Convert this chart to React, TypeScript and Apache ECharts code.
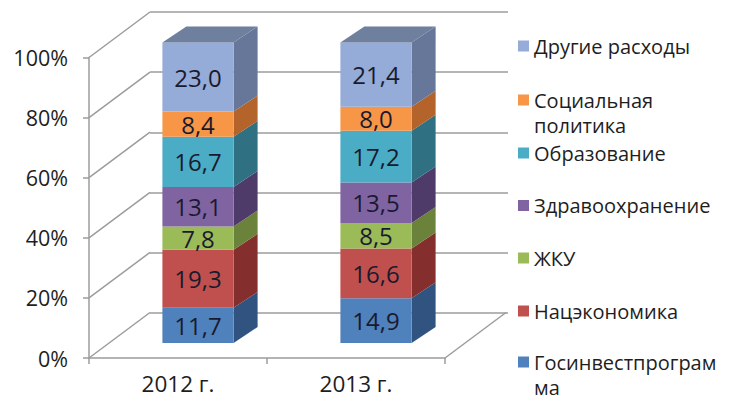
import React, { useEffect, useRef } from 'react';
import * as echarts from 'echarts';

const categories = ['2012 г.', '2013 г.'];
const yTicks = [0, 20, 40, 60, 80, 100];
const seriesNames = [
  'Госинвестпрограмма',
  'Нацэкономика',
  'ЖКУ',
  'Здравоохранение',
  'Образование',
  'Социальная политика',
  'Другие расходы',
];
const gosinvest = [11.7, 14.9];
const natsekonomika = [19.3, 16.6];
const zhku = [7.8, 8.5];
const zdrav = [13.1, 13.5];
const obraz = [16.7, 17.2];
const social = [8.4, 8.0];
const other = [23.0, 21.4];
const seriesValues = [gosinvest, natsekonomika, zhku, zdrav, obraz, social, other];
const legendLines: Record<string, string[]> = {
  'Социальная политика': ['Социальная', 'политика'],
  'Госинвестпрограмма': ['Госинвестпрограм', 'ма'],
};

const frontColors = ['#4F81BD', '#C0504D', '#9BBB59', '#8064A2', '#4BACC6', '#F79646', '#95ABD8'];
const sideColors = ['#31537F', '#842F2D', '#6A8239', '#4F3B69', '#2F7083', '#B4642A', '#66779A'];
const topColors = ['#3B6296', '#9A3A37', '#7C9645', '#5E4A7C', '#3888A0', '#C97530', '#6F7F9E'];

const FONT = '"Open Sans", sans-serif';
const TEXT = '#1E1E1E';
const GRID = '#9C9C9C';
const DEPTH_DX = 61;
const DEPTH_DY = -45.5;
const BAR_DX = 20;
const BAR_DY = -15;
const SIDE_DX = 24;
const SIDE_DY = -16;

export default function App() {
  const ref = useRef<HTMLDivElement>(null);
  useEffect(() => {
    if (!ref.current) return;
    const chart = echarts.init(ref.current, null, { renderer: 'svg' });

    const totals = categories.map((_, ci) => seriesValues.reduce((s, arr) => s + arr[ci], 0));
    const cum = categories.map(() => 0);

    const barSeries = seriesNames.map((name, si) => {
      const data = categories.map((_, ci) => {
        const v = seriesValues[si][ci];
        const base = cum[ci];
        const top = base + (v / totals[ci]) * 100;
        cum[ci] = top;
        return [ci, base, top, v, si === seriesNames.length - 1 ? 1 : 0];
      });
      return {
        type: 'custom',
        name,
        xAxisIndex: 0,
        yAxisIndex: 0,
        z: 5,
        itemStyle: { color: frontColors[si] },
        encode: { x: 0, y: [1, 2] },
        data,
        renderItem: (params: any, api: any) => {
          const cat = api.value(0);
          const base = api.value(1);
          const top = api.value(2);
          const raw = api.value(3);
          const isTop = api.value(4);
          const pb = api.coord([cat, base]);
          const pt = api.coord([cat, top]);
          const bw = api.size([1, 0])[0] * 0.4;
          const x0 = pb[0] + BAR_DX - bw / 2;
          const x1 = x0 + bw;
          const yb = pb[1] + BAR_DY;
          const yt = pt[1] + BAR_DY;
          const children: any[] = [
            {
              type: 'polygon',
              shape: { points: [[x1, yt], [x1 + SIDE_DX, yt + SIDE_DY], [x1 + SIDE_DX, yb + SIDE_DY], [x1, yb]] },
              style: { fill: sideColors[si] },
            },
            {
              type: 'rect',
              shape: { x: x0, y: yt, width: bw, height: yb - yt },
              style: { fill: frontColors[si] },
            },
          ];
          if (isTop) {
            children.push({
              type: 'polygon',
              shape: { points: [[x0, yt], [x0 + SIDE_DX, yt + SIDE_DY], [x1 + SIDE_DX, yt + SIDE_DY], [x1, yt]] },
              style: { fill: topColors[si] },
            });
          }
          children.push({
            type: 'text',
            style: {
              text: Number(raw).toFixed(1).replace('.', ','),
              x: x0 + bw / 2,
              y: (yt + yb) / 2,
              align: 'center',
              verticalAlign: 'middle',
              fontSize: 24,
              fontFamily: FONT,
              fill: '#1A1A2E',
            },
          });
          return { type: 'group', children };
        },
      };
    });

    const diagData = yTicks.map((v) => [0, v, 0]).concat([[1, 0, 1]]);
    const diagSeries = {
      type: 'custom',
      name: 'walls',
      xAxisIndex: 0,
      yAxisIndex: 0,
      z: 1,
      silent: true,
      encode: { x: 0, y: 1 },
      data: diagData,
      renderItem: (params: any, api: any) => {
        const cat = api.value(0);
        const v = api.value(1);
        const right = api.value(2);
        const p = api.coord([cat, v]);
        const half = api.size([1, 0])[0] / 2;
        const x = right ? p[0] + half : p[0] - half;
        return {
          type: 'line',
          shape: { x1: x, y1: p[1], x2: x + DEPTH_DX, y2: p[1] + DEPTH_DY },
          style: { stroke: GRID, lineWidth: 1.5 },
        };
      },
    };

    const legendOrder = seriesNames.slice().reverse();
    const legendCenters = [46, 100, 153, 205.5, 258, 311, 362];
    const legends = legendOrder.map((name, i) => ({
      data: [name],
      left: 518,
      top: legendCenters[i] - 11,
      orient: 'vertical',
      icon: 'rect',
      itemWidth: 11,
      itemHeight: 11,
      padding: 0,
      selectedMode: false,
      formatter: (n: string) => (legendLines[n] ? legendLines[n][0] : n),
      textStyle: { fontSize: 20, lineHeight: 22, color: TEXT, fontFamily: FONT },
    }));
    const extraTexts = legendOrder
      .map((name, i) => ({ name, i }))
      .filter((d) => legendLines[d.name])
      .map((d) => ({
        type: 'text',
        left: 534,
        top: legendCenters[d.i] + 25 - 11,
        style: { text: legendLines[d.name][1], fontSize: 20, lineHeight: 22, fill: TEXT, fontFamily: FONT },
      }));

    chart.setOption({
      animation: false,
      backgroundColor: '#ffffff',
      grid: [
        { left: 89, right: 299, top: 57.5, bottom: 43 },
        { left: 150, right: 236, top: 12, bottom: 88 },
      ],
      xAxis: [
        {
          type: 'category',
          gridIndex: 0,
          data: categories,
          axisLine: { show: true, lineStyle: { color: GRID, width: 1.5 } },
          axisTick: { show: true, length: 6, lineStyle: { color: GRID, width: 1.5 } },
          axisLabel: { fontSize: 22.5, color: TEXT, fontFamily: FONT, margin: 14 },
          splitLine: { show: false },
        },
        { type: 'value', gridIndex: 1, show: false, min: 0, max: 1 },
      ],
      yAxis: [
        {
          type: 'value',
          gridIndex: 0,
          min: 0,
          max: 100,
          interval: 20,
          axisLine: { show: true, lineStyle: { color: GRID, width: 1.5 } },
          axisTick: { show: true, length: 6, lineStyle: { color: GRID, width: 1.5 } },
          axisLabel: {
            formatter: '{value}%',
            fontSize: 21.5,
            color: TEXT,
            fontFamily: FONT,
            margin: 21,
            padding: [9, 0, 0, 0],
          },
          splitLine: { show: false },
        },
        {
          type: 'value',
          gridIndex: 1,
          min: 0,
          max: 100,
          interval: 20,
          axisLine: { show: false },
          axisTick: { show: false },
          axisLabel: { show: false },
          splitLine: { show: true, lineStyle: { color: GRID, width: 1.5 } },
        },
      ],
      legend: legends,
      graphic: extraTexts,
      series: [diagSeries, ...barSeries],
    });

    return () => chart.dispose();
  }, []);

  return <div ref={ref} style={{ width: 744, height: 401, position: 'absolute', left: 0, top: 0 }} />;
}
